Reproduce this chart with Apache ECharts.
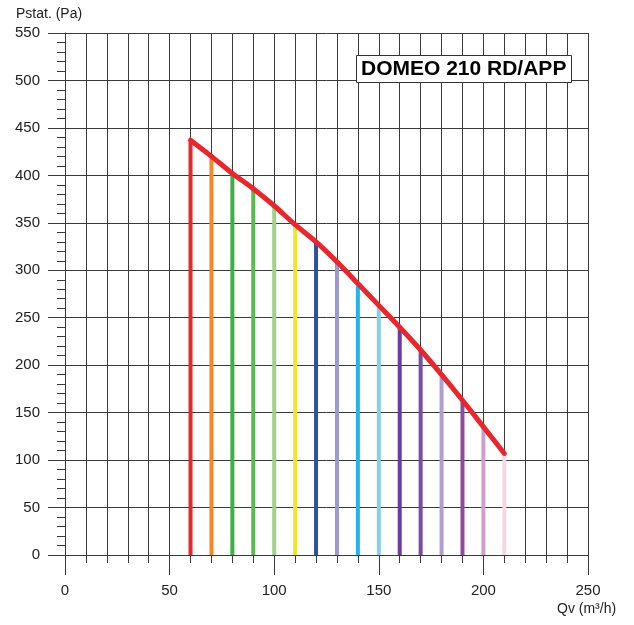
<!DOCTYPE html>
<html>
<head>
<meta charset="utf-8">
<script src="https://cdn.jsdelivr.net/npm/echarts@6/dist/echarts.min.js"></script>
<style>
  html, body { margin: 0; padding: 0; background: #fff; }
  #main { width: 634px; height: 625px; }
</style>
</head>
<body>
<div id="main"></div>
<script>
// flow rates (m3/h) and static pressure (Pa)
var flows = [60, 70, 80, 90, 100, 110, 120, 130, 140, 150, 160, 170, 180, 190, 200, 210];
var pressures = [437, 420, 402, 386, 368, 348, 330, 309, 286, 263, 240, 216, 190, 163, 135, 107];
var barColors = ['#e8262b', '#f7882a', '#3cb043', '#5bb94f', '#a0d38a', '#efe52a', '#2f4fa0', '#9a9ad2',
                 '#25b4ea', '#86cfdf', '#6b3d99', '#7b4aa2', '#ae9ed2', '#8e4aa2', '#cf9fcb', '#f5d8e0'];
var xTicks = [0, 50, 100, 150, 200, 250];
var yTicks = [0, 50, 100, 150, 200, 250, 300, 350, 400, 450, 500, 550];

var myChart = echarts.init(document.getElementById('main'));

var gridColor = '#3a3a3a';
var font = 'Liberation Sans, Arial, sans-serif';

var curve = [];
var bars = [];
for (var i = 0; i < flows.length; i++) {
    curve.push([flows[i], pressures[i]]);
    bars.push({ value: [flows[i], pressures[i]], itemStyle: { color: barColors[i] } });
}

var option = {
    animation: false,
    backgroundColor: '#fff',
    title: {
        text: 'DOMEO 210 RD/APP',
        left: 356,
        top: 55,
        padding: [4, 5, 3, 5],
        backgroundColor: '#fff',
        borderColor: '#333',
        borderWidth: 1,
        textStyle: { fontFamily: font, fontSize: 21, fontWeight: 'bold', color: '#000' }
    },
    graphic: [
        { type: 'text', left: 16, top: 7, style: { text: 'Pstat. (Pa)', font: '14px ' + font, fill: '#222' } },
        { type: 'text', left: 557, top: 602, style: { text: 'Qv (m³/h)', font: '14px ' + font, fill: '#222' } }
    ],
    grid: { left: 65, right: 46, top: 33, bottom: 70 },
    xAxis: {
        type: 'value',
        min: xTicks[0],
        max: xTicks[xTicks.length - 1],
        interval: 50,
        axisLine: { show: true, lineStyle: { color: gridColor, width: 1 } },
        axisTick: { show: true, length: 20, lineStyle: { color: gridColor } },
        minorTick: { show: true, splitNumber: 5, length: 8, lineStyle: { color: gridColor } },
        splitLine: { show: true, lineStyle: { color: gridColor, width: 1 } },
        minorSplitLine: { show: true, lineStyle: { color: gridColor, width: 1 } },
        axisLabel: { margin: 28, fontFamily: font, fontSize: 15, color: '#222' }
    },
    yAxis: {
        type: 'value',
        min: yTicks[0],
        max: yTicks[yTicks.length - 1],
        interval: 50,
        axisLine: { show: true, lineStyle: { color: gridColor, width: 1 } },
        axisTick: { show: true, length: 17, lineStyle: { color: gridColor } },
        minorTick: { show: true, splitNumber: 5, length: 8, lineStyle: { color: gridColor } },
        splitLine: { show: true, lineStyle: { color: gridColor, width: 1 } },
        axisLabel: { margin: 25, fontFamily: font, fontSize: 15, color: '#222' }
    },
    series: [
        {
            type: 'bar',
            data: bars,
            barWidth: 4,
            silent: true,
            z: 3
        },
        {
            type: 'line',
            data: curve,
            smooth: 0.2,
            symbol: 'none',
            lineStyle: { color: '#e8262b', width: 5, cap: 'round', join: 'round' },
            z: 4
        }
    ]
};

myChart.setOption(option);
</script>
</body>
</html>
